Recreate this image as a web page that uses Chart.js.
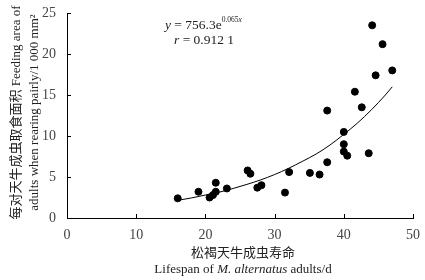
<!DOCTYPE html>
<html>
<head>
<meta charset="utf-8">
<script src="https://cdn.jsdelivr.net/npm/chart.js@4.4.0/dist/chart.umd.min.js"></script>
<style>
  html, body { margin: 0; padding: 0; background: #fff; }
  .wrap { position: relative; width: 425px; height: 280px; }
</style>
</head>
<body>
<div class="wrap"><canvas id="c"></canvas></div>
<script>
// lifespan (d) vs feeding area (1 000 mm2)
const lifespan = [16.0, 19.0, 20.6, 21.1, 21.5, 21.5, 23.1, 26.1, 26.5, 27.5, 28.1, 31.5, 32.1,
  35.1, 36.5, 37.6, 37.6, 40.0, 40.0, 40.0, 40.5, 41.6, 42.6, 43.6, 44.1, 44.6, 45.6, 47.0];
const feedArea = [2.4, 3.2, 2.5, 2.8, 3.2, 4.3, 3.6, 5.8, 5.4, 3.7, 4.0, 3.1, 5.6,
  5.5, 5.3, 6.8, 13.1, 10.5, 9.0, 8.1, 7.6, 15.4, 13.5, 7.9, 23.5, 17.4, 21.2, 18.0];

// fitted curve as it appears in the figure
const fitX = [16, 18, 20, 22, 24, 26, 28, 30, 32, 34, 36, 38, 40, 42, 44, 46, 47];
const fitY = [2.15, 2.45, 2.8, 3.15, 3.6, 4.1, 4.65, 5.3, 6.05, 6.9, 7.8, 8.9, 10.2, 11.6, 13.2, 15.0, 16.0];

const xTicks = [0, 10, 20, 30, 40, 50];
const yTicks = [0, 5, 10, 15, 20, 25];

const serif = "'Liberation Serif', 'Noto Sans CJK SC', serif";

const textPlugin = {
  id: 'texts',
  afterDraw(chart) {
    const ctx = chart.ctx;
    const xs = chart.scales.x, ys = chart.scales.y;
    ctx.save();
    // inward ticks
    ctx.strokeStyle = '#000';
    ctx.lineWidth = 1;
    ctx.beginPath();
    xTicks.forEach(v => {
      const px = Math.round(xs.getPixelForValue(v)) + 0.5;
      ctx.moveTo(px, ys.bottom);
      ctx.lineTo(px, ys.bottom - 4);
    });
    yTicks.forEach(v => {
      const py = Math.round(ys.getPixelForValue(v)) + 0.5;
      ctx.moveTo(xs.left, py);
      ctx.lineTo(xs.left + 4, py);
    });
    ctx.stroke();

    ctx.fillStyle = '#222';
    ctx.textBaseline = 'alphabetic';
    // equation
    let x = 165, y = 29;
    ctx.font = 'italic 13.5px ' + serif;
    ctx.fillText('y', x, y); x += ctx.measureText('y').width;
    ctx.font = '13.5px ' + serif;
    let s = ' = 756.3e';
    ctx.fillText(s, x, y); x += ctx.measureText(s).width;
    ctx.font = '7.5px ' + serif;
    s = '0.065';
    ctx.fillText(s, x, y - 7); x += ctx.measureText(s).width;
    ctx.font = 'italic 7.5px ' + serif;
    ctx.fillText('x', x, y - 7);

    x = 174; y = 44;
    ctx.font = 'italic 13.5px ' + serif;
    ctx.fillText('r', x, y); x += ctx.measureText('r').width;
    ctx.font = '13.5px ' + serif;
    ctx.fillText(' = 0.912 1', x, y);

    // x title
    const cx = (xs.left + xs.right) / 2 + 3;
    ctx.textAlign = 'center';
    ctx.font = '13px ' + serif;
    ctx.fillText('松褐天牛成虫寿命', cx, 257);
    const p1 = 'Lifespan of ', p2 = 'M. alternatus', p3 = ' adults/d';
    const f = '13px ' + serif;
    ctx.font = f;
    const w1 = ctx.measureText(p1).width, w3 = ctx.measureText(p3).width;
    ctx.font = 'italic ' + f;
    const w2 = ctx.measureText(p2).width;
    let lx = cx - (w1 + w2 + w3) / 2;
    ctx.textAlign = 'left';
    ctx.font = f;
    ctx.fillText(p1, lx, 273); lx += w1;
    ctx.font = 'italic ' + f;
    ctx.fillText(p2, lx, 273); lx += w2;
    ctx.font = f;
    ctx.fillText(p3, lx, 273);

    // y title, rotated
    const cy = (ys.top + ys.bottom) / 2 - 3;
    ctx.translate(0, cy);
    ctx.rotate(-Math.PI / 2);
    ctx.textAlign = 'center';
    ctx.font = '13px ' + serif;
    ctx.fillText('每对天牛成虫取食面积 Feeding area of', 0, 20);
    ctx.font = '13px ' + serif;
    ctx.fillText('adults when rearing pairly/1 000 mm²', 0, 38);
    ctx.restore();
  }
};

new Chart(document.getElementById('c'), {
  type: 'scatter',
  data: {
    datasets: [{
      label: 'fit',
      type: 'line',
      data: fitX.map((v, i) => ({ x: v, y: fitY[i] })),
      borderColor: '#000',
      borderWidth: 1,
      pointRadius: 0,
      cubicInterpolationMode: 'monotone',
      fill: false
    }, {
      label: 'obs',
      data: lifespan.map((v, i) => ({ x: v, y: feedArea[i] })),
      backgroundColor: '#000',
      borderColor: '#000',
      pointRadius: 3.5,
      pointHoverRadius: 3.5
    }]
  },
  options: {
    responsive: true,
    maintainAspectRatio: false,
    animation: false,
    events: [],
    layout: { padding: { top: 13, right: 12, left: 0, bottom: 0 } },
    plugins: { legend: { display: false }, tooltip: { enabled: false } },
    scales: {
      x: {
        type: 'linear', min: 0, max: 50,
        afterBuildTicks: s => { s.ticks = xTicks.map(v => ({ value: v })); },
        afterFit: s => { s.height = 62; },
        grid: { display: false },
        border: { display: true, color: '#000', width: 1 },
        ticks: { color: '#444', padding: 1, font: { family: serif, size: 14 } }
      },
      y: {
        min: 0, max: 25,
        afterBuildTicks: s => { s.ticks = yTicks.map(v => ({ value: v })); },
        afterFit: s => { s.width = 67; },
        grid: { display: false },
        border: { display: true, color: '#000', width: 1 },
        ticks: { color: '#444', padding: 3, font: { family: serif, size: 14 } }
      }
    }
  },
  plugins: [textPlugin]
});
</script>
</body>
</html>
